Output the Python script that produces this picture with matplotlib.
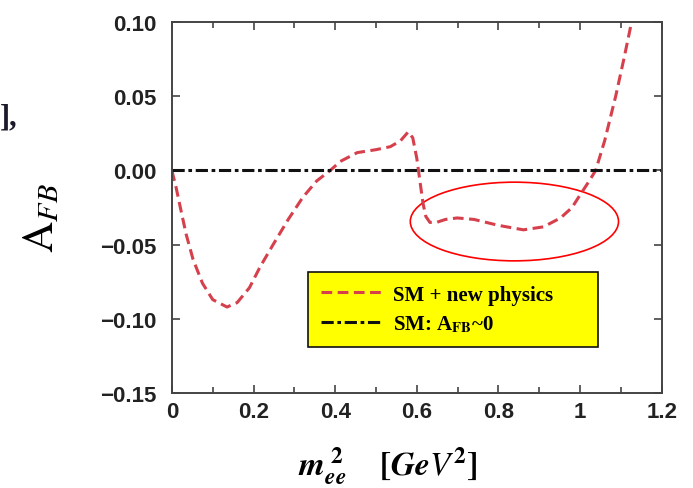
import matplotlib
matplotlib.use('Agg')
import numpy as np
from matplotlib import pyplot as plt
from matplotlib.patches import Ellipse
from matplotlib.ticker import MultipleLocator

plt.rcParams['mathtext.fontset'] = 'stix'

# curve
m2 = [0.0, 0.01, 0.02, 0.035, 0.052, 0.075, 0.10, 0.135, 0.16, 0.19, 0.216, 0.25, 0.285,
      0.321, 0.355, 0.388, 0.412, 0.454, 0.50, 0.535, 0.56, 0.579, 0.59, 0.60, 0.608,
      0.615, 0.622, 0.632, 0.648, 0.67, 0.699, 0.74, 0.80, 0.861, 0.91, 0.952, 0.98,
      1.001, 1.02, 1.038, 1.06, 1.087, 1.107, 1.126]
afb = [0.0, -0.011, -0.024, -0.043, -0.060, -0.076, -0.087, -0.092, -0.089, -0.079, -0.065,
       -0.049, -0.033, -0.018, -0.007, 0.0, 0.006, 0.012, 0.014, 0.016, 0.020, 0.026,
       0.022, 0.008, -0.008, -0.022, -0.031, -0.035, -0.035, -0.033, -0.032, -0.033,
       -0.037, -0.040, -0.038, -0.032, -0.025, -0.016, -0.008, 0.0, 0.020, 0.050, 0.075, 0.100]
sm_x = [0.0, 1.2]
sm_y = [0.0, 0.0]

fig = plt.figure(figsize=(6.93, 4.89), dpi=100)
ax = fig.add_axes([0.248, 0.194, 0.707, 0.759])

red = '#d6404c'
ax.plot(m2, afb, color=red, lw=2.2, dashes=(3.5, 1.8), label='SM + new physics')
ax.plot(sm_x, sm_y, color='#111111', lw=2.2, dashes=(4, 1.2, 1.2, 1.2), label=r'SM: A$_{\mathbf{FB}}$~0')

ax.add_patch(Ellipse((0.839, -0.0344), 0.510, 0.053, fill=False, color='red', lw=1.2, clip_on=False))

ax.set_xlim(0, 1.2)
ax.set_ylim(-0.15, 0.10)
ax.set_xticks([0, 0.2, 0.4, 0.6, 0.8, 1.0, 1.2])
ax.set_xticklabels(['0', '0.2', '0.4', '0.6', '0.8', '1', '1.2'])
ax.xaxis.set_minor_locator(MultipleLocator(0.1))
ax.set_yticks([-0.15, -0.10, -0.05, 0.0, 0.05, 0.10])
ax.set_yticklabels(['\u22120.15', '\u22120.10', '\u22120.05', '0.00', '0.05', '0.10'])
ax.tick_params(which='both', direction='in', top=True, right=True, color='#444444')
ax.tick_params(which='major', length=6, width=1.2)
ax.tick_params(which='minor', length=4, width=1.2)
ax.tick_params(axis='x', pad=6)
ax.tick_params(axis='y', pad=11)
for lab in ax.get_xticklabels() + ax.get_yticklabels():
    lab.set_fontfamily('Liberation Sans')
    lab.set_fontweight('bold')
    lab.set_fontsize(16)
    lab.set_color('#222222')
for s in ax.spines.values():
    s.set_linewidth(1.4)
    s.set_color('#444444')

# axis titles
fig.text(41 / 693, 1 - 218 / 489, r'$\mathrm{A}_{FB}$', fontsize=31, rotation=90,
         ha='center', va='center')
fig.text(388 / 693, 1 - 476 / 489, r'$\boldsymbol{m}_{\boldsymbol{ee}}^{\ \mathbf{2}}$   $\boldsymbol{[GeV^{\mathbf{2}}]}$',
         fontsize=24, ha='center', va='baseline')

leg = ax.legend(loc='upper left', bbox_to_anchor=(0.278, 0.126, 0.592, 0.2), mode='expand',
                borderaxespad=0, fancybox=False, framealpha=1, facecolor='#ffff00',
                edgecolor='#111111', handlelength=2.9, handletextpad=0.6, borderpad=0.6,
                labelspacing=0.45,
                prop={'family': 'Liberation Serif', 'weight': 'bold', 'size': 15})
leg.get_frame().set_linewidth(1.2)

fig.text(0.0, 1 - 118 / 489, '],', fontsize=22, fontweight='bold', family='Liberation Serif',
         color='#1a1a2a', va='center')

plt.savefig('out.png', dpi=100)
